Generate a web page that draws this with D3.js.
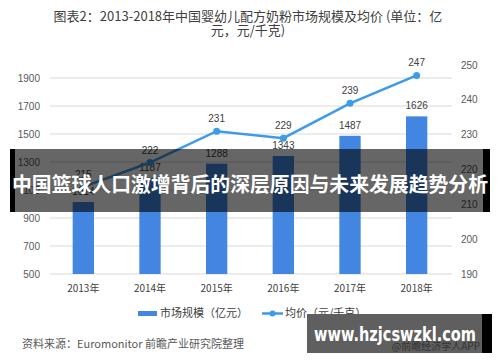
<!DOCTYPE html>
<html lang="zh">
<head>
<meta charset="UTF-8">
<title>婴幼儿配方奶粉市场规模及均价</title>
<script src="https://cdnjs.cloudflare.com/ajax/libs/d3/7.8.5/d3.min.js"></script>
<style>
  body { margin: 0; background: #fff; }
  svg { display: block; font-family: "Noto Sans CJK SC", "Liberation Sans", sans-serif; }
</style>
</head>
<body>
<div id="chart"></div>
<script>
const years = ["2013年", "2014年", "2015年", "2016年", "2017年", "2018年"];
const marketSize = [1014, 1187, 1288, 1343, 1487, 1626];
const avgPrice = [215, 222, 231, 229, 239, 247];
const leftTicks = [500, 700, 900, 1100, 1300, 1500, 1700, 1900];
const rightTicks = [190, 200, 210, 220, 230, 240, 250];

const width = 500, height = 362;
const svg = d3.select("#chart").append("svg")
  .attr("width", width).attr("height", height);

const x = d3.scaleBand().domain(years).range([50, 450])
  .paddingInner(0.68).paddingOuter(0.34);
const yL = d3.scaleLinear().domain([500, 2000]).range([274, 64]);
const yR = d3.scaleLinear().domain([190, 250]).range([274, 65]);
const cx = d => x(d) + x.bandwidth() / 2;

// title
svg.append("text").attr("x", 248).attr("y", 21).attr("text-anchor", "middle")
  .attr("font-size", 13).attr("fill", "#404040")
  .text("图表2：2013-2018年中国婴幼儿配方奶粉市场规模及均价 (单位：亿");
svg.append("text").attr("x", 248).attr("y", 35).attr("text-anchor", "middle")
  .attr("font-size", 13).attr("fill", "#404040")
  .text("元，元/千克)");

// grid
svg.append("g").selectAll("line").data(leftTicks).join("line")
  .attr("x1", 50).attr("x2", 452)
  .attr("y1", d => yL(d)).attr("y2", d => yL(d))
  .attr("stroke", "#d9d9d9").attr("stroke-width", 1);

// left axis labels
svg.append("g").selectAll("text").data(leftTicks).join("text")
  .attr("x", 40).attr("y", d => yL(d) + 3.5).attr("text-anchor", "end")
  .attr("font-size", 10).attr("font-family", "Liberation Sans, sans-serif")
  .attr("fill", "#595959").text(d => d);

// right axis labels
svg.append("g").selectAll("text").data(rightTicks).join("text")
  .attr("x", 461).attr("y", d => yR(d) + 3.5)
  .attr("font-size", 10).attr("font-family", "Liberation Sans, sans-serif")
  .attr("fill", "#595959").text(d => d);

// x labels
svg.append("g").selectAll("text").data(years).join("text")
  .attr("x", d => cx(d)).attr("y", 292).attr("text-anchor", "middle")
  .attr("font-size", 10).attr("fill", "#404040").text(d => d);

// bars
svg.append("g").selectAll("rect").data(marketSize).join("rect")
  .attr("x", (d, i) => x(years[i])).attr("width", x.bandwidth())
  .attr("y", d => yL(d)).attr("height", d => yL(500) - yL(d))
  .attr("fill", "#4286e2");
svg.append("g").selectAll("text").data(marketSize).join("text")
  .attr("x", (d, i) => cx(years[i])).attr("y", d => yL(d) - 7)
  .attr("text-anchor", "middle").attr("font-size", 10)
  .attr("font-family", "Liberation Sans, sans-serif").attr("fill", "#404040")
  .text(d => d);

// line
const line = d3.line().x((d, i) => cx(years[i])).y(d => yR(d));
svg.append("path").datum(avgPrice).attr("d", line)
  .attr("fill", "none").attr("stroke", "#3d9be9").attr("stroke-width", 2.5);
svg.append("g").selectAll("circle").data(avgPrice).join("circle")
  .attr("cx", (d, i) => cx(years[i])).attr("cy", d => yR(d)).attr("r", 3.5)
  .attr("fill", "#3d9be9");
svg.append("g").selectAll("text").data(avgPrice).join("text")
  .attr("x", (d, i) => cx(years[i])).attr("y", d => yR(d) - 9)
  .attr("text-anchor", "middle").attr("font-size", 10)
  .attr("font-family", "Liberation Sans, sans-serif").attr("fill", "#404040")
  .text(d => d);

// legend
const lg = svg.append("g");
lg.append("rect").attr("x", 138).attr("y", 311).attr("width", 19).attr("height", 5).attr("fill", "#4286e2");
lg.append("text").attr("x", 160).attr("y", 317).attr("font-size", 11).attr("fill", "#404040").text("市场规模（亿元）");
lg.append("line").attr("x1", 262).attr("x2", 283).attr("y1", 313.5).attr("y2", 313.5)
  .attr("stroke", "#3d9be9").attr("stroke-width", 2.5);
lg.append("circle").attr("cx", 272.5).attr("cy", 313.5).attr("r", 3).attr("fill", "#3d9be9");
lg.append("text").attr("x", 285).attr("y", 317).attr("font-size", 11).attr("fill", "#404040").text("均价（元/千克）");

// source
svg.append("text").attr("x", 22).attr("y", 348).attr("font-size", 11).attr("fill", "#595959")
  .text("资料来源：Euromonitor 前瞻产业研究院整理");

// banner overlay
svg.append("rect").attr("x", 10).attr("y", 149).attr("width", 473).attr("height", 63)
  .attr("fill", "#000").attr("fill-opacity", 0.6);
svg.append("rect").attr("x", 10).attr("y", 149).attr("width", 5).attr("height", 63).attr("fill", "#000");
svg.append("rect").attr("x", 483).attr("y", 149).attr("width", 7).attr("height", 63).attr("fill", "#000");
svg.append("text").attr("x", 250).attr("y", 192).attr("text-anchor", "middle")
  .attr("font-size", 20).attr("font-weight", "bold").attr("fill", "#fff")
  .attr("textLength", 476).attr("lengthAdjust", "spacingAndGlyphs")
  .text("中国篮球人口激增背后的深层原因与未来发展趋势分析");

// site watermark box
svg.append("rect").attr("x", 307).attr("y", 314).attr("width", 175).attr("height", 39).attr("fill", "#5f5f5f");
svg.append("rect").attr("x", 482).attr("y", 314).attr("width", 10).attr("height", 39).attr("fill", "#000");
svg.append("text").attr("x", 480).attr("y", 350).attr("text-anchor", "end")
  .attr("font-size", 10).attr("fill", "#333").text("@前瞻经济学人APP");
svg.append("text").attr("x", 395).attr("y", 341).attr("text-anchor", "middle")
  .attr("font-size", 20).attr("font-weight", "bold").attr("fill", "#fff")
  .attr("font-family", "DejaVu Sans, sans-serif")
  .attr("textLength", 162).attr("lengthAdjust", "spacingAndGlyphs")
  .text("www.hzjcswzkl.com");
</script>
</body>
</html>
